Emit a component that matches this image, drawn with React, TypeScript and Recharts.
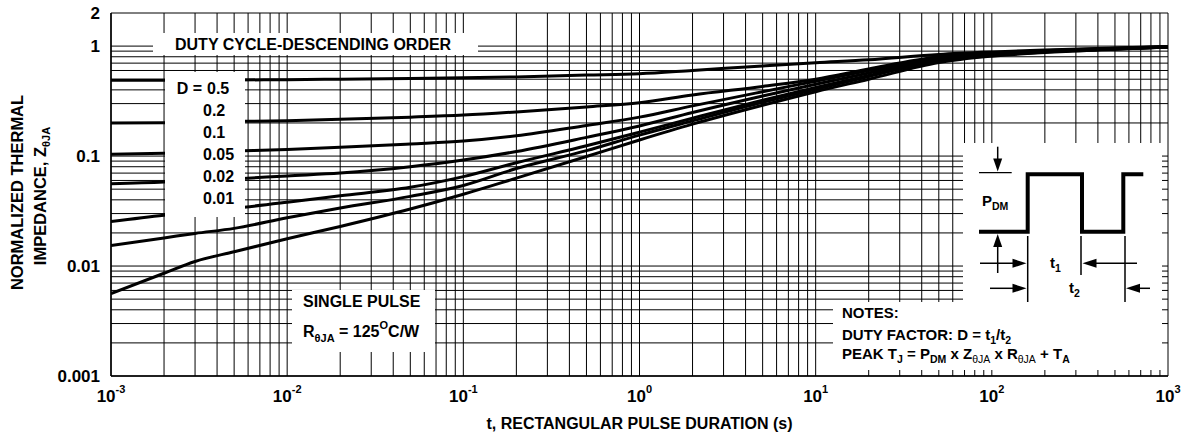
import React from 'react';
import { LineChart, Line, XAxis, YAxis, CartesianGrid } from 'recharts';

const W = 1190;
const H = 444;
const FONT = '"Liberation Sans", Arial, Helvetica, sans-serif';

// pulse duration t (s)
const pulseTimes = [0.001, 0.002, 0.003, 0.005, 0.01, 0.02, 0.05, 0.1, 0.2, 0.5, 1, 2, 5, 10, 20, 50, 100, 200, 500, 1000];

// normalized thermal impedance per duty cycle
const duty05 = [0.49, 0.49, 0.49, 0.492, 0.495, 0.5, 0.507, 0.515, 0.525, 0.545, 0.56, 0.6, 0.66, 0.706, 0.75, 0.84, 0.885, 0.92, 0.96, 0.99];
const duty02 = [0.2, 0.201, 0.203, 0.206, 0.21, 0.216, 0.226, 0.236, 0.252, 0.28, 0.306, 0.36, 0.43, 0.5, 0.62, 0.8, 0.86, 0.91, 0.955, 0.985];
const duty01 = [0.104, 0.106, 0.108, 0.111, 0.115, 0.12, 0.129, 0.137, 0.153, 0.19, 0.226, 0.286, 0.385, 0.48, 0.6, 0.78, 0.85, 0.9, 0.95, 0.985];
const duty005 = [0.056, 0.058, 0.06, 0.062, 0.066, 0.07, 0.08, 0.092, 0.11, 0.148, 0.188, 0.249, 0.352, 0.45, 0.57, 0.76, 0.84, 0.895, 0.945, 0.98];
const duty002 = [0.0254, 0.029, 0.031, 0.0335, 0.038, 0.0435, 0.052, 0.065, 0.087, 0.124, 0.165, 0.221, 0.322, 0.42, 0.54, 0.745, 0.83, 0.89, 0.94, 0.98];
const duty001 = [0.0154, 0.018, 0.0198, 0.022, 0.0275, 0.0337, 0.043, 0.054, 0.077, 0.112, 0.155, 0.209, 0.308, 0.405, 0.53, 0.735, 0.82, 0.885, 0.94, 0.98];
const singlePulse = [0.0056, 0.0086, 0.011, 0.0135, 0.0177, 0.0229, 0.033, 0.045, 0.063, 0.099, 0.14, 0.195, 0.29, 0.385, 0.5, 0.71, 0.81, 0.875, 0.935, 0.98];

const seriesKeys = ['d05', 'd02', 'd01', 'd005', 'd002', 'd001', 'single'];
const seriesValues = [duty05, duty02, duty01, duty005, duty002, duty001, singlePulse];

const dutyLabels = ['0.5', '0.2', '0.1', '0.05', '0.02', '0.01'];

// log grid: every 1..9 of each decade
const xDecades = [0.001, 0.01, 0.1, 1, 10, 100];
const yDecades = [0.001, 0.01, 0.1];
const multipliers = [1, 2, 3, 4, 5, 6, 7, 8, 9];
const xGridTicks = [...xDecades.flatMap((d) => multipliers.map((m) => +(d * m).toPrecision(3))), 1000];
const yGridTicks = [...yDecades.flatMap((d) => multipliers.map((m) => +(d * m).toPrecision(3))), 1, 2];
const xTickLabels = [0.001, 0.01, 0.1, 1, 10, 100, 1000];
const yTickLabels = [0.001, 0.01, 0.1, 1, 2];

const chartData = pulseTimes.map((t, i) => {
  const row: Record<string, number> = { t };
  seriesKeys.forEach((k, j) => {
    row[k] = seriesValues[j][i];
  });
  return row;
});

const XTick = (props: any) => {
  const { x, payload } = props;
  if (!xTickLabels.includes(payload.value)) return <g />;
  const exp = Math.round(Math.log10(payload.value));
  return (
    <text x={x} y={402} textAnchor="middle" fontFamily={FONT} fontWeight="bold" fontSize={17} fill="#000">
      10
      <tspan fontSize={11} dy={-9}>
        {exp}
      </tspan>
    </text>
  );
};

const YTick = (props: any) => {
  const { y, payload } = props;
  if (!yTickLabels.includes(payload.value)) return <g />;
  return (
    <text x={100} y={y + 6} textAnchor="end" fontFamily={FONT} fontWeight="bold" fontSize={17} fill="#000">
      {String(payload.value)}
    </text>
  );
};

const Arrow = ({ x, y, dir }: { x: number; y: number; dir: 'l' | 'r' | 'u' | 'd' }) => {
  const pts =
    dir === 'r'
      ? `${x},${y} ${x - 14},${y - 4.5} ${x - 14},${y + 4.5}`
      : dir === 'l'
      ? `${x},${y} ${x + 14},${y - 4.5} ${x + 14},${y + 4.5}`
      : dir === 'd'
      ? `${x},${y} ${x - 4.5},${y - 13} ${x + 4.5},${y - 13}`
      : `${x},${y} ${x - 4.5},${y + 13} ${x + 4.5},${y + 13}`;
  return <polygon points={pts} fill="#000" />;
};

const Overlay = () => (
  <svg
    width={W}
    height={H}
    style={{ position: 'absolute', left: 0, top: 0 }}
    fontFamily={FONT}
    fontWeight="bold"
    fill="#000"
  >
    {/* axis titles */}
    <text x={639.5} y={429} textAnchor="middle" fontSize={16}>
      t, RECTANGULAR PULSE DURATION (s)
    </text>
    <text transform="translate(23,192.5) rotate(-90)" textAnchor="middle" fontSize={16.5}>
      NORMALIZED THERMAL
    </text>
    <text transform="translate(46,196) rotate(-90)" textAnchor="middle" fontSize={16.5}>
      IMPEDANCE, Z
      <tspan fontSize={11} dy={4}>
        θJA
      </tspan>
    </text>

    {/* duty cycle legend */}
    <rect x={153} y={33} width={325} height={22} fill="#fff" />
    <text x={175} y={50} fontSize={16}>
      DUTY CYCLE-DESCENDING ORDER
    </text>
    <rect x={165} y={72} width={80} height={145} fill="#fff" />
    <text x={202} y={94.3} fontSize={16} textAnchor="end">
      D =
    </text>
    {dutyLabels.map((d, i) => (
      <text key={d} x={i === 0 ? 207 : 203} y={94.3 + i * 21.9} fontSize={16}>
        {d}
      </text>
    ))}

    {/* single pulse note */}
    <rect x={292} y={290} width={143} height={62} fill="#fff" />
    <text x={303} y={307} fontSize={16}>
      SINGLE PULSE
    </text>
    <text x={303} y={337} fontSize={16}>
      R
      <tspan fontSize={11} dy={5}>
        θJA
      </tspan>
      <tspan dy={-5}> = 125</tspan>
      <tspan fontSize={11} dy={-8}>
        O
      </tspan>
      <tspan dy={8}>C/W</tspan>
    </text>

    {/* pulse diagram and notes */}
    <rect x={963} y={143} width={199} height={159} fill="#fff" />
    <rect x={833} y={302} width={329} height={68} fill="#fff" />

    <g stroke="#000" fill="none">
      <path d="M979,231.7 H1027.7 V174.3 H1082 V231.7 H1123.3 V174.3 H1143.3" strokeWidth={4} />
      <line x1={979} y1={172.7} x2={1011.7} y2={172.7} strokeWidth={1.3} />
      <line x1={997.7} y1={146.7} x2={997.7} y2={160} strokeWidth={1.5} />
      <line x1={997.7} y1={246} x2={997.7} y2={273} strokeWidth={1.5} />
      <line x1={1027.7} y1={236} x2={1027.7} y2={302} strokeWidth={1.5} />
      <line x1={1081} y1={236} x2={1081} y2={275} strokeWidth={1.5} />
      <line x1={1125} y1={236} x2={1125} y2={302} strokeWidth={1.5} />
      <line x1={980} y1={263.3} x2={1014} y2={263.3} strokeWidth={1.5} />
      <line x1={1137} y1={263.3} x2={1095} y2={263.3} strokeWidth={1.5} />
      <line x1={990} y1={288.3} x2={1014} y2={288.3} strokeWidth={1.5} />
      <line x1={1150} y1={288.3} x2={1138} y2={288.3} strokeWidth={1.5} />
    </g>
    <Arrow x={997.7} y={171.5} dir="d" />
    <Arrow x={997.7} y={234} dir="u" />
    <Arrow x={1026.5} y={263.3} dir="r" />
    <Arrow x={1082.5} y={263.3} dir="l" />
    <Arrow x={1026.5} y={288.3} dir="r" />
    <Arrow x={1126} y={288.3} dir="l" />

    <text x={982} y={206} fontSize={15}>
      P
      <tspan fontSize={10.5} dy={4}>
        DM
      </tspan>
    </text>
    <text x={1050} y={268} fontSize={15}>
      t
      <tspan fontSize={10.5} dy={4}>
        1
      </tspan>
    </text>
    <text x={1069} y={293} fontSize={15}>
      t
      <tspan fontSize={10.5} dy={4}>
        2
      </tspan>
    </text>

    <text x={842} y={318} fontSize={15}>
      NOTES:
    </text>
    <text x={842} y={340} fontSize={15}>
      DUTY FACTOR: D = t
      <tspan fontSize={10.5} dy={4}>
        1
      </tspan>
      <tspan dy={-4}>/t</tspan>
      <tspan fontSize={10.5} dy={4}>
        2
      </tspan>
    </text>
    <text x={842} y={359} fontSize={15}>
      PEAK T
      <tspan fontSize={10.5} dy={4}>
        J
      </tspan>
      <tspan dy={-4}> = P</tspan>
      <tspan fontSize={10.5} dy={4}>
        DM
      </tspan>
      <tspan dy={-4}> x Z</tspan>
      <tspan fontSize={10.5} fontWeight="normal" dy={4}>
        θJA
      </tspan>
      <tspan dy={-4}> x R</tspan>
      <tspan fontSize={10.5} fontWeight="normal" dy={4}>
        θJA
      </tspan>
      <tspan dy={-4}> + T</tspan>
      <tspan fontSize={10.5} dy={4}>
        A
      </tspan>
    </text>
  </svg>
);

const App = () => (
  <div style={{ position: 'absolute', left: 0, top: 0, width: W, height: H, background: '#fff' }}>
    <LineChart width={W} height={H} data={chartData} margin={{ top: 13, right: 22, bottom: 0, left: 0 }}>
      <CartesianGrid stroke="#000" strokeWidth={1} />
      <XAxis
        dataKey="t"
        type="number"
        scale="log"
        domain={[0.001, 1000]}
        allowDataOverflow
        ticks={xGridTicks}
        interval={0}
        tick={<XTick />}
        tickLine={false}
        axisLine={{ stroke: '#000', strokeWidth: 1.5 }}
        height={68}
      />
      <YAxis
        type="number"
        scale="log"
        domain={[0.001, 2]}
        allowDataOverflow
        ticks={yGridTicks}
        interval={0}
        tick={<YTick />}
        tickLine={false}
        axisLine={{ stroke: '#000', strokeWidth: 1.5 }}
        width={111}
      />
      {seriesKeys.map((k) => (
        <Line
          key={k}
          dataKey={k}
          type="monotone"
          stroke="#000"
          strokeWidth={3}
          dot={false}
          activeDot={false}
          isAnimationActive={false}
        />
      ))}
    </LineChart>
    <Overlay />
  </div>
);

export default App;
